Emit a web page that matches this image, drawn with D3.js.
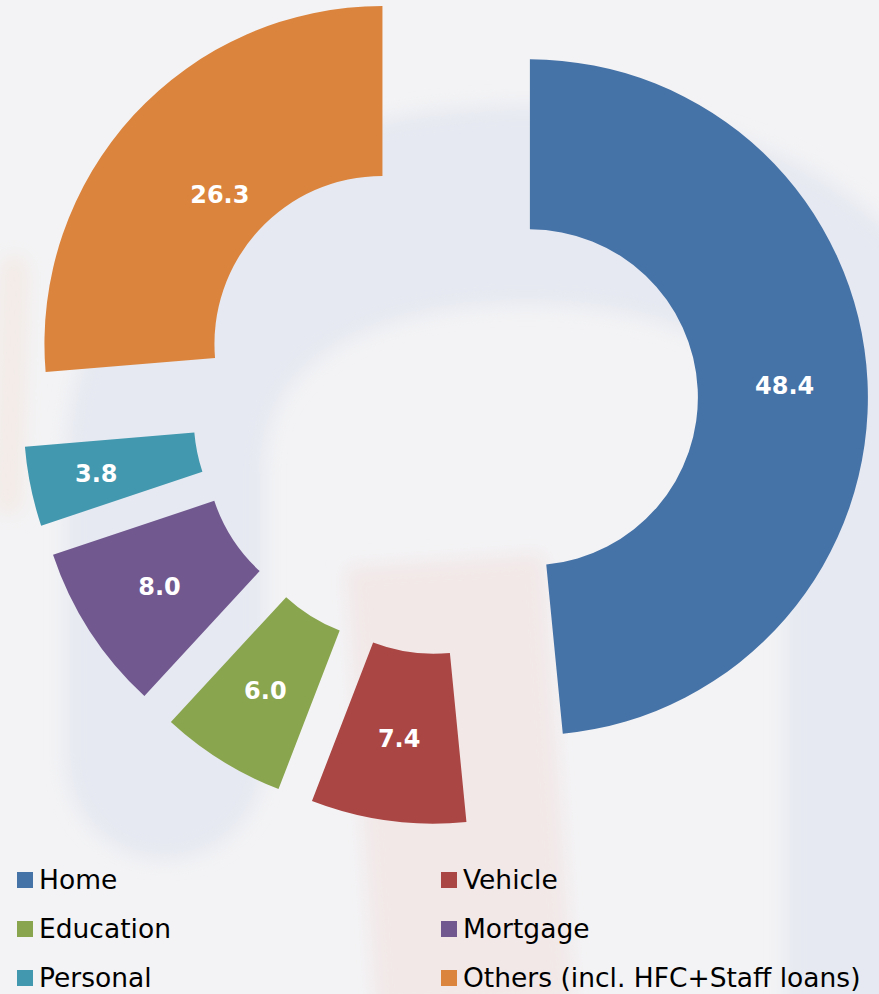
<!DOCTYPE html>
<html>
<head>
<meta charset="utf-8">
<script src="https://cdn.jsdelivr.net/npm/d3@7"></script>
<style>
  html, body { margin: 0; padding: 0; background: #f3f3f5; }
  svg { display: block; }
</style>
</head>
<body>
<svg id="chart"></svg>
<script>
// Loan book mix (%), clockwise from 12 o'clock
const categories = ["Home", "Vehicle", "Education", "Mortgage", "Personal", "Others (incl. HFC+Staff loans)"];
const values     = [48.4, 7.4, 6.0, 8.0, 3.8, 26.3];
const colors     = ["#4572a7", "#aa4643", "#89a54e", "#71588f", "#4198af", "#db843d"];

const W = 879, H = 994;

// donut geometry
const cx = 445, cy = 401.5;
const outerR = 338, innerR = 168;
const explode = 85;
const labelR = 255;
// a couple of labels sit off the mid radius in the original
const labelRadiusFix = { "Others (incl. HFC+Staff loans)": 221, "Personal": 271 };

const svg = d3.select("#chart")
  .attr("width", W)
  .attr("height", H)
  .attr("viewBox", `0 0 ${W} ${H}`);

// faint watermark behind the chart
const defs = svg.append("defs");
defs.append("filter")
    .attr("id", "soft")
    .attr("x", "-20%").attr("y", "-20%").attr("width", "140%").attr("height", "140%")
  .append("feGaussianBlur")
    .attr("stdDeviation", 9);

const wm = svg.append("g").attr("filter", "url(#soft)");

wm.append("path")
  .attr("d", "M 14 270 L 8 500")
  .attr("stroke", "#f3ebe7")
  .attr("stroke-width", 30)
  .attr("stroke-linecap", "round")
  .attr("fill", "none");

wm.append("path")
  .attr("d", "M 445 560 L 475 1010")
  .attr("stroke", "#f2e8e8")
  .attr("stroke-width", 200)
  .attr("fill", "none");

wm.append("path")
  .attr("d", "M 165 760 L 165 470 C 165 290 330 205 525 205 C 730 205 885 290 885 470 L 885 1010")
  .attr("stroke", "#e6e9f1")
  .attr("stroke-width", 200)
  .attr("stroke-linecap", "round")
  .attr("fill", "none");

const data = categories.map((c, i) => ({ name: c, value: values[i], color: colors[i] }));

const pie = d3.pie()
  .sort(null)
  .value(d => d.value);

const arc = d3.arc()
  .innerRadius(innerR)
  .outerRadius(outerR);

const arcs = pie(data);

const g = svg.append("g")
  .attr("transform", `translate(${cx},${cy})`);

// each slice pulled out along its bisector
function shift(d) {
  const a = (d.startAngle + d.endAngle) / 2;
  return [explode * Math.sin(a), -explode * Math.cos(a)];
}

const slices = g.selectAll(".slice")
  .data(arcs)
  .join("g")
    .attr("class", "slice")
    .attr("transform", d => {
      const [dx, dy] = shift(d);
      return `translate(${dx},${dy})`;
    });

slices.append("path")
  .attr("d", arc)
  .attr("fill", d => d.data.color);

slices.append("text")
  .attr("transform", d => {
    const r = labelRadiusFix[d.data.name] || labelR;
    const c = d3.arc().innerRadius(r).outerRadius(r).centroid(d);
    return `translate(${c[0]},${c[1]})`;
  })
  .attr("text-anchor", "middle")
  .attr("dy", "0.36em")
  .attr("fill", "#ffffff")
  .style("font-family", "'DejaVu Sans', sans-serif")
  .style("font-weight", "bold")
  .style("font-size", "24px")
  .text(d => d3.format(".1f")(d.data.value));

// legend, two columns
const legend = svg.append("g")
  .attr("class", "legend");

const items = legend.selectAll(".item")
  .data(data)
  .join("g")
    .attr("class", "item")
    .attr("transform", (d, i) => `translate(${i % 2 === 0 ? 17 : 441},${872 + Math.floor(i / 2) * 49})`);

items.append("rect")
  .attr("width", 16)
  .attr("height", 16)
  .attr("fill", d => d.color);

items.append("text")
  .attr("x", 22)
  .attr("y", 17)
  .attr("fill", "#000000")
  .style("font-family", "'DejaVu Sans', sans-serif")
  .style("font-size", "26.5px")
  .text(d => d.name);
</script>
</body>
</html>
